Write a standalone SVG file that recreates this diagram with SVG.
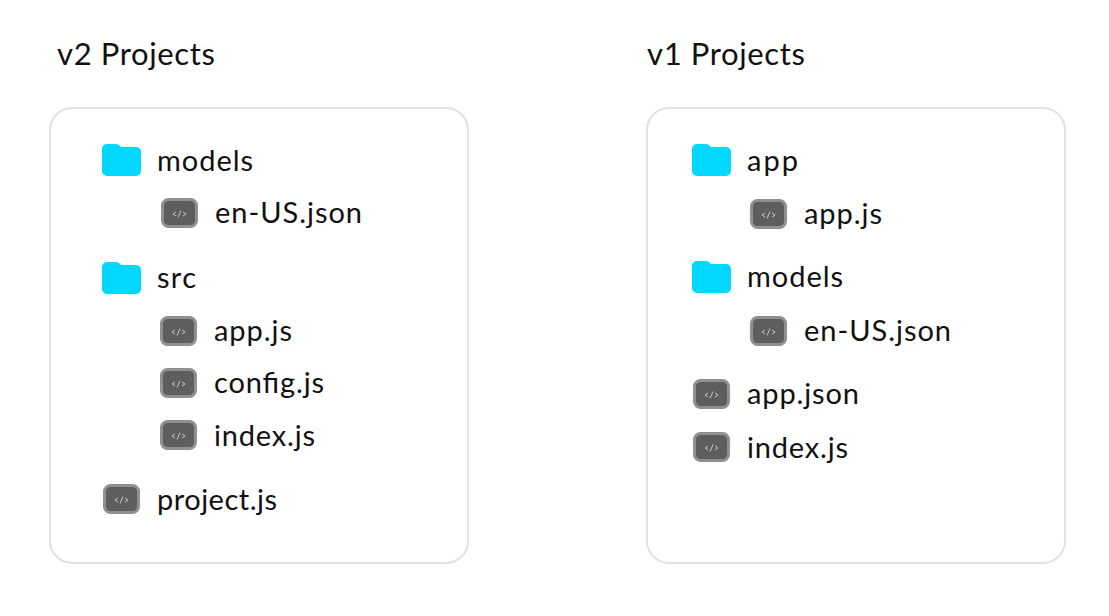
<svg xmlns="http://www.w3.org/2000/svg" width="1109" height="616" viewBox="0 0 1109 616">
<style>
text{font-family:"Lato","Noto Sans","Liberation Sans",sans-serif;fill:#111;font-size:29px}
.h{font-size:31px}
.panel{fill:#fff;stroke:#e2e2e2;stroke-width:2}
.fold{fill:#00d8ff}
.fo{fill:#5e5e5e;stroke:#909090;stroke-width:3}
.g{fill:none;stroke:#dcdcdc;stroke-width:.8}
</style>
<defs>
<g id="folder"><path class="fold" d="M0 5a5 5 0 0 1 5-5h9q3 0 5 3h15a5 5 0 0 1 5 5v19a5 5 0 0 1-5 5H5a5 5 0 0 1-5-5z"/></g>
<g id="file"><rect class="fo" x="1.500" y="1.500" width="34" height="27" rx="6"/><path class="g" d="M15 14l-3 2 3 2M22 14l3 2-3 2M20 12.500l-3 7"/></g>
</defs>
<rect width="1109" height="616" fill="#fff"/>
<g id="v2-panel"><rect class="panel" x="50" y="108" width="418" height="455" rx="22"/><text class="h" x="57" y="65" textLength="158">v2 Projects</text></g>
<g id="v1-panel"><rect class="panel" x="647" y="108" width="418" height="455" rx="22"/><text class="h" x="647" y="65" textLength="158">v1 Projects</text></g>
<g id="v2-models"><use href="#folder" x="102" y="144"/><text x="157" y="171" textLength="96">models</text></g>
<g id="v2-en-us"><use href="#file" x="161" y="198"/><text x="215" y="223" textLength="147">en-US.json</text></g>
<g id="v2-src"><use href="#folder" x="102" y="262"/><text x="157" y="288" textLength="39">src</text></g>
<g id="v2-app"><use href="#file" x="160" y="316"/><text x="214" y="341" textLength="78">app.js</text></g>
<g id="v2-config"><use href="#file" x="160" y="368"/><text x="214" y="393" textLength="110">config.js</text></g>
<g id="v2-index"><use href="#file" x="160" y="420"/><text x="214" y="446" textLength="101">index.js</text></g>
<g id="v2-project"><use href="#file" x="103" y="484"/><text x="157" y="510" textLength="120">project.js</text></g>
<g id="v1-app-dir"><use href="#folder" x="692" y="144"/><text x="747" y="171" textLength="51">app</text></g>
<g id="v1-app-js"><use href="#file" x="750" y="199"/><text x="804" y="224" textLength="78">app.js</text></g>
<g id="v1-models"><use href="#folder" x="692" y="261"/><text x="747" y="287" textLength="96">models</text></g>
<g id="v1-en-us"><use href="#file" x="750" y="316"/><text x="804" y="341" textLength="147">en-US.json</text></g>
<g id="v1-app-json"><use href="#file" x="693" y="379"/><text x="747" y="404" textLength="112">app.json</text></g>
<g id="v1-index"><use href="#file" x="693" y="432"/><text x="747" y="458" textLength="101">index.js</text></g>
<g id="connectors"></g>
</svg>
